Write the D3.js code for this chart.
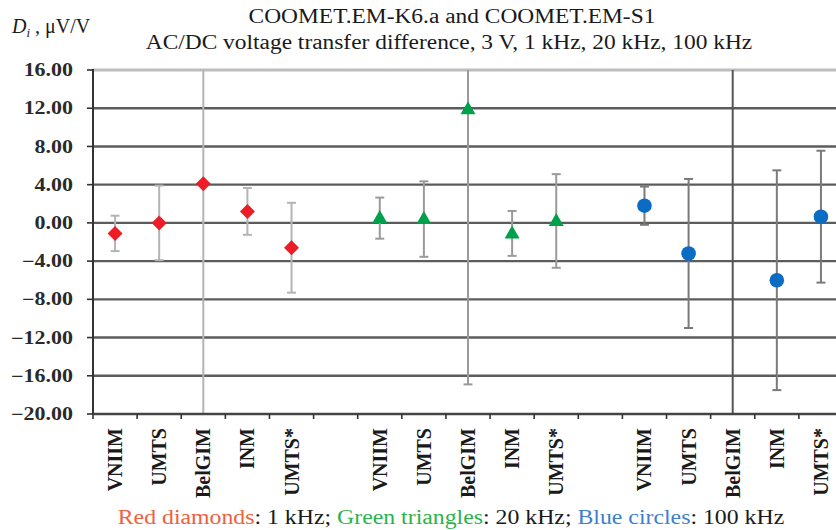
<!DOCTYPE html>
<html><head><meta charset="utf-8">
<script src="https://cdn.jsdelivr.net/npm/d3@7"></script>
<style>body{margin:0;background:#fff}svg{display:block}</style>
</head><body>
<svg id="c" width="836" height="530"></svg>
<script>
// ---- data ----
const labs = ["VNIIM", "UMTS", "BelGIM", "INM", "UMTS*"];
const groups = ["1 kHz", "20 kHz", "100 kHz"];
const d1k = [-1.1, 0.0, 4.1, 1.2, -2.6];
const u1k = [1.85, 3.9, 25, 2.45, 4.7];
const d20k = [0.5, 0.4, 11.9, -1.1, 0.2];
const u20k = [2.15, 3.95, 28.8, 2.35, 4.9];
const d100k = [1.8, -3.2, null, -6.0, 0.65];
const u100k = [2.0, 7.8, null, 11.5, 6.9];
const yTicks = [16, 12, 8, 4, 0, -4, -8, -12, -16, -20];
const titleLines = ["COOMET.EM-K6.a and COOMET.EM-S1",
  "AC/DC voltage transfer difference, 3 V, 1 kHz, 20 kHz, 100 kHz"];

const svg = d3.select("#c");
const L = 93, R = 843, T = 70, B = 414;

// slots: 5 labs per group + gap slot between groups
const slots = [];
groups.forEach((g, gi) => {
  labs.forEach(l => slots.push(g + "|" + l));
  if (gi < groups.length - 1) slots.push("gap" + gi);
});
const x = d3.scaleBand().domain(slots).range([L, R]).padding(0);
const y = d3.scaleLinear().domain([-20, 16]).range([B, T]);
const cx = k => x(k) + x.bandwidth() / 2;

const series = [
  {g: "1 kHz", d: d1k, u: u1k, color: "#ee1c25", bar: "#b4b4b4", shape: "diamond"},
  {g: "20 kHz", d: d20k, u: u20k, color: "#00a14b", bar: "#9a9a9a", shape: "triangle"},
  {g: "100 kHz", d: d100k, u: u100k, color: "#0a6cc2", bar: "#7a7a7a", shape: "circle"}
];

// grid lines
svg.append("g").selectAll("line").data(yTicks.filter(v => v > -20)).join("line")
  .attr("x1", L).attr("x2", 836).attr("y1", d => y(d)).attr("y2", d => y(d))
  .attr("stroke", d => d === 16 ? "#bdbdbd" : "#5c5c5c")
  .attr("stroke-width", d => d === 16 ? 3 : 2.4);

// clip for error bars
svg.append("defs").append("clipPath").attr("id", "pc").append("rect")
  .attr("x", L).attr("y", T).attr("width", R - L).attr("height", B - T);
const eb = svg.append("g").attr("clip-path", "url(#pc)");

series.forEach(s => {
  labs.forEach((l, i) => {
    const k = s.g + "|" + l;
    const X = cx(k);
    if (s.d[i] == null) {
      eb.append("line").attr("x1", X).attr("x2", X).attr("y1", y(16)).attr("y2", y(-20))
        .attr("stroke", "#555").attr("stroke-width", 2);
      return;
    }
    const lo = s.d[i] - s.u[i], hi = s.d[i] + s.u[i];
    eb.append("line").attr("x1", X).attr("x2", X).attr("y1", y(hi)).attr("y2", y(lo))
      .attr("stroke", s.bar).attr("stroke-width", 2);
    [lo, hi].forEach(v => {
      if (v > -20 && v < 16)
        eb.append("line").attr("x1", X - 4.5).attr("x2", X + 4.5).attr("y1", y(v)).attr("y2", y(v))
          .attr("stroke", s.bar).attr("stroke-width", 2);
    });
  });
});

// axes lines
svg.append("line").attr("x1", L).attr("x2", L).attr("y1", T - 1).attr("y2", B + 1)
  .attr("stroke", "#333").attr("stroke-width", 2);
svg.append("line").attr("x1", L).attr("x2", 836).attr("y1", B).attr("y2", B)
  .attr("stroke", "#444").attr("stroke-width", 2.4);

// y ticks + labels
const yt = svg.append("g");
yt.selectAll("line").data(yTicks).join("line")
  .attr("x1", L - 6).attr("x2", L).attr("y1", d => y(d)).attr("y2", d => y(d))
  .attr("stroke", "#333").attr("stroke-width", 1.6);
yt.selectAll("text").data(yTicks).join("text")
  .attr("transform", d => `translate(73,${y(d)}) scale(1.22,1)`)
  .attr("dy", "0.34em")
  .attr("text-anchor", "end").attr("font-family", "Liberation Serif").attr("font-size", 18)
  .attr("font-weight", "bold").attr("fill", "#2a2a2a")
  .text(d => d3.format(".2f")(d));

// x ticks
const bounds = slots.map(s => x(s)).concat([R]);
svg.append("g").selectAll("line").data(bounds).join("line")
  .attr("x1", d => d).attr("x2", d => d).attr("y1", B).attr("y2", B + 5)
  .attr("stroke", "#333").attr("stroke-width", 1.6);

// x labels
svg.append("g").selectAll("text").data(slots.filter(s => !s.startsWith("gap"))).join("text")
  .attr("transform", d => `translate(${cx(d)},${428}) rotate(-90)`)
  .attr("dy", "0.35em").attr("text-anchor", "end")
  .attr("font-family", "Liberation Serif").attr("font-size", 20).attr("font-weight", "bold")
  .attr("fill", "#1a1a1a")
  .text(d => d.split("|")[1]);

// markers
series.forEach(s => {
  const pts = labs.map((l, i) => ({k: s.g + "|" + l, v: s.d[i]})).filter(p => p.v != null);
  const g = svg.append("g");
  if (s.shape === "circle") {
    g.selectAll("circle").data(pts).join("circle")
      .attr("cx", p => cx(p.k)).attr("cy", p => y(p.v)).attr("r", 7.3).attr("fill", s.color);
  } else if (s.shape === "diamond") {
    g.selectAll("path").data(pts).join("path")
      .attr("d", p => { const X = cx(p.k), Y = y(p.v), r = 7.5; return `M${X},${Y-r}L${X+r},${Y}L${X},${Y+r}L${X-r},${Y}Z`; })
      .attr("fill", s.color);
  } else {
    g.selectAll("path").data(pts).join("path")
      .attr("d", p => { const X = cx(p.k), Y = y(p.v); return `M${X},${Y-8}L${X+7.5},${Y+5}L${X-7.5},${Y+5}Z`; })
      .attr("fill", s.color);
  }
});

function fit(sel, w, cxp) {
  const bb = sel.node().getBBox();
  const sx = w / bb.width;
  sel.attr("transform", `translate(${cxp},0) scale(${sx},1) translate(${-cxp},0)`);
}

const tfont = "Liberation Serif";
const t1 = svg.append("text").attr("x", 452).attr("y", 23).attr("text-anchor", "middle")
  .attr("font-family", tfont).attr("font-size", 20).attr("fill", "#1a1a1a").text(titleLines[0]);
fit(t1, 407, 452);
const t2 = svg.append("text").attr("x", 449).attr("y", 49).attr("text-anchor", "middle")
  .attr("font-family", tfont).attr("font-size", 20).attr("fill", "#1a1a1a").text(titleLines[1]);
fit(t2, 607, 449);

const yl = svg.append("text").attr("x", 12).attr("y", 33).attr("font-family", tfont)
  .attr("font-size", 20).attr("fill", "#1a1a1a");
yl.append("tspan").attr("font-style", "italic").text("D");
yl.append("tspan").attr("font-style", "italic").attr("font-size", 13).attr("dy", 4).text("i");
yl.append("tspan").attr("dy", -4).text(" , μV/V");

const lg = svg.append("text").attr("x", 451).attr("y", 524).attr("text-anchor", "middle")
  .attr("font-family", tfont).attr("font-size", 20).attr("fill", "#1a1a1a");
lg.append("tspan").attr("fill", "#f0603c").text("Red diamonds");
lg.append("tspan").text(": 1 kHz; ");
lg.append("tspan").attr("fill", "#2cb34a").text("Green triangles");
lg.append("tspan").text(": 20 kHz; ");
lg.append("tspan").attr("fill", "#3d7fcc").text("Blue circles");
lg.append("tspan").text(": 100 kHz");
fit(lg, 667, 451);
</script>
</body></html>
